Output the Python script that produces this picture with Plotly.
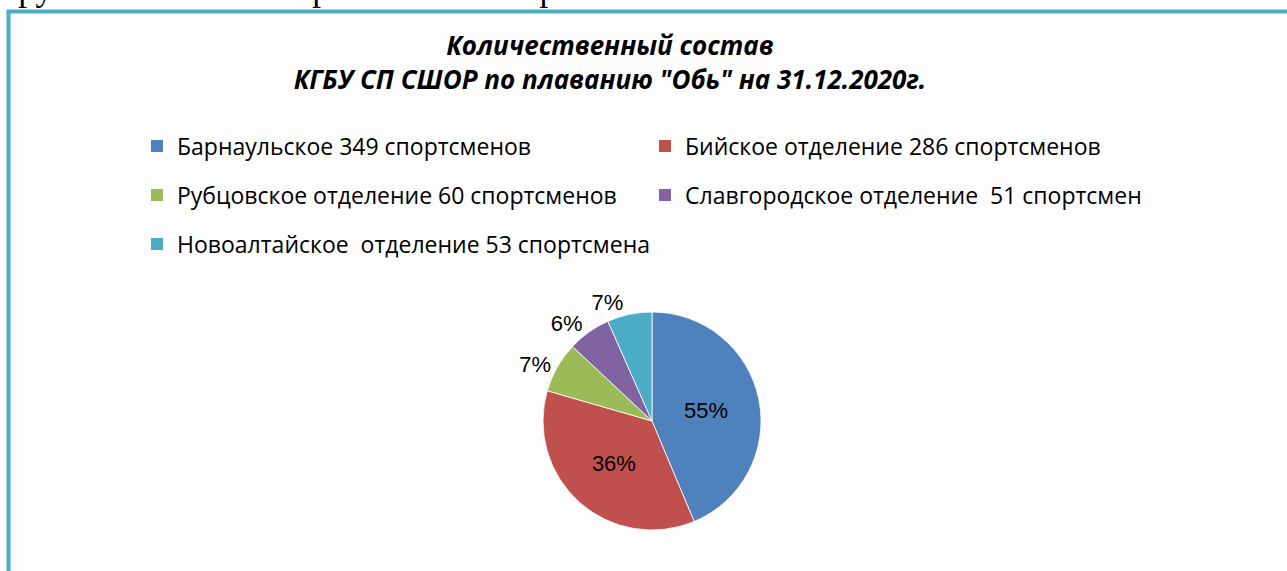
import plotly.graph_objects as go

W, H = 1287, 571

categories = [
    "Барнаульское 349 спортсменов",
    "Бийское отделение 286 спортсменов",
    "Рубцовское отделение 60 спортсменов",
    "Славгородское отделение  51 спортсмен",
    "Новоалтайское  отделение 53 спортсмена",
]
athletes = [349, 286, 60, 51, 53]
pct_labels = ["55%", "36%", "7%", "6%", "7%"]
colors = ["#4F81BD", "#C0504D", "#9BBB59", "#8064A2", "#4BACC6"]
legend_rows = ["legend", "legend", "legend2", "legend2", "legend3"]
label_positions = ["inside", "inside", "outside", "outside", "outside"]

title_text = "Количественный состав<br>КГБУ СП СШОР по плаванию \"Обь\" на 31.12.2020г."
top_text = "группы высшего спортивного мастерства - 6 человек."


def px_x(p):
    return p / W


def px_y(p):
    return 1 - p / H


pie_domain = dict(x=[px_x(543), px_x(761)], y=[px_y(530), px_y(312)])
label_font = dict(family="Liberation Sans", size=22, color="black")

# last label is drawn by a second, see-through copy of the same pie so that
# the two small neighbouring outside labels are not pushed apart with a leader line
first_labels = pct_labels[:-1] + [""]
last_label = [""] * (len(pct_labels) - 1) + [pct_labels[-1]]

fig = go.Figure()

fig.add_trace(go.Pie(
    labels=categories,
    values=athletes,
    text=first_labels,
    textinfo="text",
    textposition=label_positions,
    insidetextorientation="horizontal",
    sort=False,
    direction="clockwise",
    rotation=0,
    marker=dict(colors=colors, line=dict(color="white", width=0.8)),
    textfont=label_font,
    showlegend=False,
    hoverinfo="label+value",
    domain=pie_domain,
))

fig.add_trace(go.Pie(
    labels=categories,
    values=athletes,
    text=last_label,
    textinfo="text",
    textposition=label_positions,
    sort=False,
    direction="clockwise",
    rotation=0,
    marker=dict(colors=["rgba(0,0,0,0)"] * len(athletes), line=dict(width=0)),
    textfont=label_font,
    showlegend=False,
    hoverinfo="skip",
    domain=pie_domain,
))

for name, col, lg in zip(categories, colors, legend_rows):
    fig.add_trace(go.Scatter(
        x=[None], y=[None], mode="markers", name=name,
        marker=dict(symbol="square", size=12, color=col, line=dict(width=0)),
        legend=lg, showlegend=True,
    ))

leg_common = dict(
    orientation="h", xanchor="left", yanchor="middle",
    entrywidthmode="pixels",
    font=dict(family="Open Sans", size=23, color="black"),
    bgcolor="rgba(0,0,0,0)", itemclick=False, itemdoubleclick=False,
)

fig.update_layout(
    width=W, height=H,
    margin=dict(l=0, r=0, t=0, b=0),
    paper_bgcolor="white",
    plot_bgcolor="rgba(0,0,0,0)",
    xaxis=dict(visible=False),
    yaxis=dict(visible=False),
    title=dict(
        text="<b><i>" + title_text + "</i></b>",
        x=px_x(610), xanchor="center",
        y=px_y(55), yanchor="middle",
        font=dict(family="Open Sans", size=26, color="black"),
    ),
    legend=dict(x=px_x(137), y=px_y(146), entrywidth=463, **leg_common),
    legend2=dict(x=px_x(137), y=px_y(195), entrywidth=463, **leg_common),
    legend3=dict(x=px_x(137), y=px_y(244), entrywidth=560, **leg_common),
    shapes=[
        dict(type="rect", xref="paper", yref="paper",
             x0=px_x(8.5), x1=px_x(W + 20), y0=px_y(H + 20), y1=px_y(11.5),
             fillcolor="#FDFDFD", line=dict(color="#4BACC6", width=4),
             layer="below"),
    ],
    annotations=[
        dict(text=top_text, xref="paper", yref="paper", x=0, y=1,
             xanchor="left", yanchor="bottom", xshift=2, yshift=-10,
             showarrow=False,
             font=dict(family="Liberation Serif", size=35, color="black")),
    ],
)

fig.write_html("out.html", config={"displayModeBar": False},
               post_script="document.body.style.margin='0';")
